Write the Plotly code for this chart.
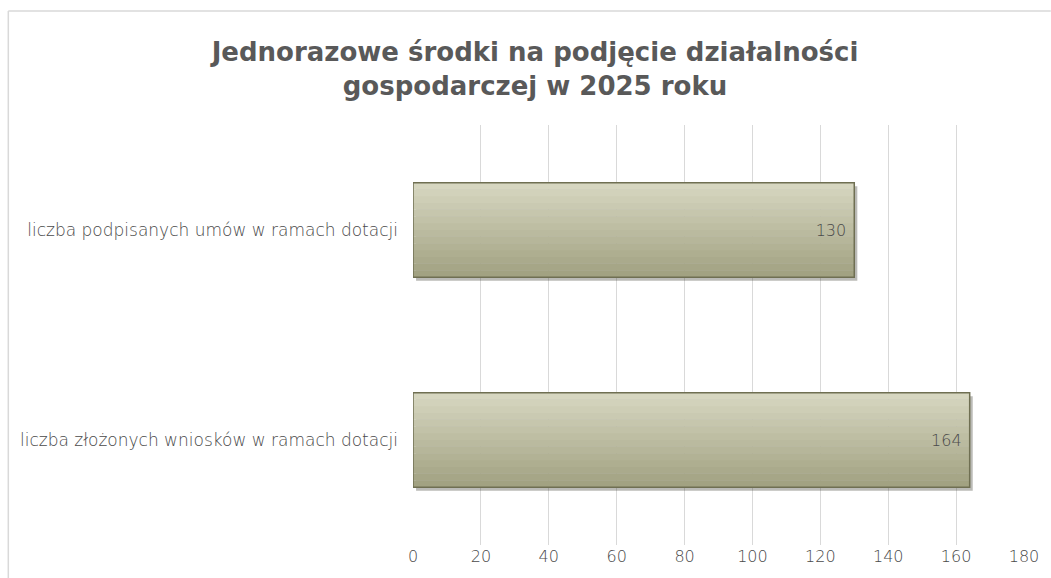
import plotly.graph_objects as go

# data (bottom category first, plotly draws first category at the bottom)
categories = [
    'liczba złożonych wniosków w ramach dotacji',
    'liczba podpisanych umów w ramach dotacji',
]
values = [164, 130]
x_ticks = [0, 20, 40, 60, 80, 100, 120, 140, 160, 180]

W, H = 1051, 578
ML, MR, MT, MB = 413, 22, 125, 33
BAR_W = 0.45
N_BANDS = 14
TOP_RGB = (214, 214, 192)
BOT_RGB = (162, 162, 130)
FONT = 'DejaVu Sans'
TXT = '#4a4a4a'

fig = go.Figure()

# drop shadow
fig.add_trace(go.Bar(
    y=categories, x=values, orientation='h',
    base=0.9, width=BAR_W, offset=-BAR_W / 2 - 0.017,
    marker=dict(color='rgba(60,60,50,0.35)', line=dict(width=0)),
    hoverinfo='skip', showlegend=False,
))

# vertical gradient built from thin bands
band_w = BAR_W / N_BANDS
for i in range(N_BANDS):
    t = i / (N_BANDS - 1)
    r, g, b = [round(BOT_RGB[k] + (TOP_RGB[k] - BOT_RGB[k]) * t) for k in range(3)]
    fig.add_trace(go.Bar(
        y=categories, x=values, orientation='h',
        width=band_w * 1.05, offset=-BAR_W / 2 + i * band_w,
        marker=dict(color=f'rgb({r},{g},{b})', line=dict(width=0)),
        hoverinfo='skip', showlegend=False,
    ))

# outline + labels
fig.add_trace(go.Bar(
    y=categories, x=values, orientation='h',
    width=BAR_W, offset=-BAR_W / 2,
    marker=dict(color='rgba(0,0,0,0)', line=dict(color='#6f6f52', width=1.5)),
    text=values, texttemplate='%{text}\u00a0',
    textposition='inside', insidetextanchor='end',
    textfont=dict(family=FONT, size=16, color=TXT, weight=200),
    cliponaxis=False, showlegend=False,
    hovertemplate='%{y}: %{x}<extra></extra>',
))

# outer chart border (left and top edges visible in the crop)
px = lambda p: (p - ML) / (W - ML - MR)
py = lambda p: (H - MB - p) / (H - MT - MB)
fig.add_shape(type='line', xref='paper', yref='paper',
              x0=px(5), x1=px(5), y0=py(H + 5), y1=py(11),
              line=dict(color='#d9d9d9', width=1.5))
fig.add_shape(type='line', xref='paper', yref='paper',
              x0=px(5), x1=px(W + 5), y0=py(11), y1=py(11),
              line=dict(color='#d9d9d9', width=1.5))

fig.update_layout(
    width=W, height=H,
    margin=dict(l=ML, r=MR, t=MT, b=MB),
    paper_bgcolor='white', plot_bgcolor='white',
    barmode='overlay',
    title=dict(
        text='Jednorazowe środki na podjęcie działalności<br>gospodarczej w 2025 roku',
        x=535 / W, xanchor='center', y=1 - 61 / H, yanchor='middle',
        font=dict(family=FONT, size=26, color='#595959', weight='bold', lineposition='none'),
    ),
    xaxis=dict(
        range=[0, 180], tickvals=x_ticks, showgrid=True, gridcolor='#d9d9d9',
        gridwidth=1, zeroline=False, showline=False, ticks='',
        tickfont=dict(family=FONT, size=16, color=TXT, weight=200),
        fixedrange=True,
    ),
    yaxis=dict(
        showgrid=False, zeroline=False, showline=False, ticks='',
        ticklabelstandoff=14,
        tickfont=dict(family=FONT, size=17, color=TXT, weight=200),
        fixedrange=True,
    ),
    showlegend=False,
)

fig.write_html(
    'out.html',
    config={'displayModeBar': False},
    post_script="document.body.style.margin='0';document.body.style.overflow='hidden';",
)
